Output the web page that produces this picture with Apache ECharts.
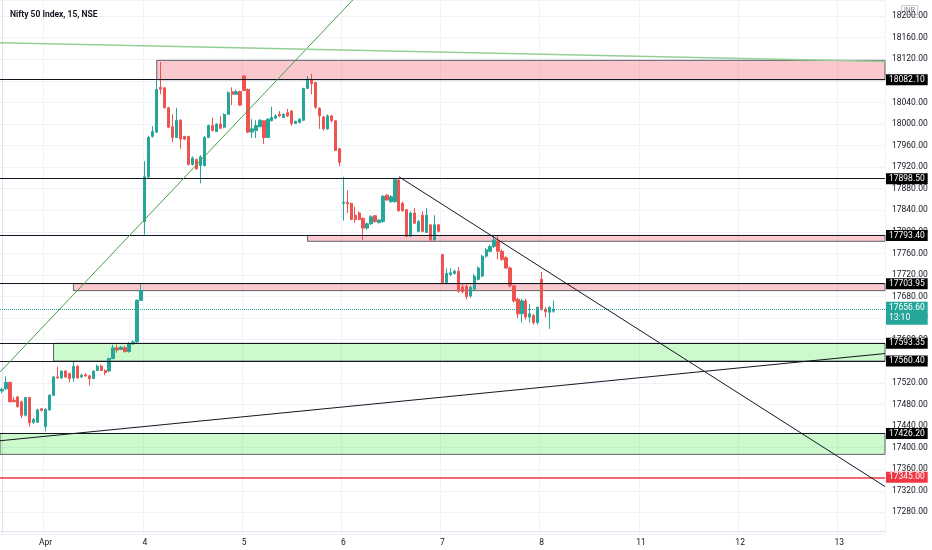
<!DOCTYPE html>
<html>
<head>
<meta charset="utf-8">
<title>Nifty 50 Index, 15, NSE</title>
<script src="https://cdn.jsdelivr.net/npm/echarts@6/dist/echarts.min.js"></script>
<style>
  html, body { margin: 0; padding: 0; background: #fff; }
  #chart { width: 932px; height: 550px; }
</style>
</head>
<body>
<div id="chart"></div>
<script>
// sessions on the time axis and the text shown at each session start
const sessionDays = ["Mar 31", "Apr 1", "Apr 4", "Apr 5", "Apr 6", "Apr 7", "Apr 8", "Apr 11", "Apr 12", "Apr 13"];
const sessionTicks = ["31", "Apr", "4", "5", "6", "7", "8", "11", "12", "13"];
const sessionFirstSlot = [14, 0, 0, 0, 0, 0, 0, 0, 0, 0];
const sessionLastSlot = [24, 24, 24, 24, 24, 24, 24, 24, 24, 11];

// 15 min candles, Mar 31 12:45 -> Apr 8 10:00
const opens = [
  17505, 17509, 17521, 17488, 17494, 17485, 17460, 17493, 17447, 17447, 17472,
  17439, 17470, 17497, 17531, 17529, 17542, 17537, 17529, 17551, 17531, 17535, 17533, 17528, 17543, 17551, 17543, 17542, 17565, 17585, 17582, 17585, 17578, 17592, 17596, 17673,
  17819, 17902, 17977, 17985, 18068, 18067, 18030, 17995, 17975, 18007, 17977, 17977, 17925, 17934, 17923, 17923, 17975, 17997, 17986, 18000, 17994, 18018, 18060, 18055, 18060,
  18089, 18064, 17985, 17988, 17995, 18006, 17975, 18006, 18011, 18018, 18012, 18021, 18024, 18001, 18003, 18007, 18066, 18083, 18077, 18029, 18013, 17991, 18015, 18006, 17954,
  17853, 17855, 17853, 17831, 17835, 17825, 17807, 17815, 17830, 17817, 17819, 17868, 17856, 17856, 17896, 17853, 17841, 17792, 17835, 17801, 17831, 17799, 17813, 17785, 17813,
  17758, 17706, 17721, 17723, 17727, 17698, 17699, 17681, 17694, 17712, 17718, 17755, 17764, 17773, 17782, 17764, 17752, 17733, 17700, 17675, 17648, 17672, 17642, 17645, 17632,
  17712, 17656, 17651, 17653
];
const closes = [
  17508, 17521, 17485, 17485, 17476, 17460, 17493, 17446, 17452, 17470, 17469,
  17471, 17497, 17531, 17529, 17542, 17531, 17528, 17551, 17529, 17534, 17533, 17528, 17542, 17551, 17543, 17539, 17565, 17585, 17581, 17586, 17578, 17592, 17596, 17673, 17691,
  17902, 17975, 17986, 18064, 18064.5, 18030, 17994, 17975, 18007, 17972, 17972, 17925, 17937, 17917, 17939, 17975, 17997, 17988, 18000, 17992, 18018, 18058, 18055, 18060, 18035,
  18062, 17985, 17991, 17997, 18007, 17975, 18009, 18012, 18015, 18015, 18018, 18015, 18001, 18005, 18009, 18066, 18083, 18075, 18031, 18015, 17991, 18015, 18006, 17951, 17929,
  17855, 17852, 17823, 17823, 17823, 17807, 17815, 17828, 17819, 17822, 17866, 17859, 17865, 17897, 17839, 17839, 17792, 17835, 17816, 17819, 17801, 17831, 17785, 17813, 17801,
  17705, 17723, 17724, 17727, 17690, 17689, 17680, 17697, 17718, 17733, 17755, 17767, 17773, 17785, 17764, 17749, 17733, 17700, 17672, 17648, 17672, 17642, 17648, 17632, 17660,
  17658, 17652, 17660, 17656.6
];
const lows = [
  17501, 17507, 17484, 17484, 17474, 17455, 17458, 17439, 17444, 17446, 17467,
  17430, 17468, 17496, 17528, 17528, 17529, 17521, 17522, 17528, 17529, 17531, 17515, 17527, 17542, 17542, 17534, 17540, 17564, 17576, 17581, 17576, 17576, 17591, 17594, 17672,
  17795, 17900, 17975, 17983, 18055, 18029, 17992, 17966, 17974, 17954, 17970, 17923, 17923, 17915, 17890, 17921, 17974, 17986, 17985, 17991, 17992, 18017, 18035, 18054, 18034,
  18061, 17983, 17974, 17974, 17994, 17963, 17974, 18005, 18009, 18013, 18011, 18013, 17997, 18000, 18001, 18006, 18065, 18055, 18028, 17991, 17988, 17989, 18003, 17950, 17922,
  17821, 17835, 17822, 17817, 17822, 17785, 17804, 17813, 17817, 17816, 17817, 17858, 17854, 17854, 17838, 17838, 17790, 17790, 17815, 17799, 17799, 17798, 17782, 17784, 17799,
  17703, 17703, 17718, 17721, 17687, 17686, 17675, 17678, 17690, 17710, 17716, 17752, 17762, 17770, 17749, 17746, 17731, 17697, 17669, 17640, 17632, 17638, 17632, 17628, 17628,
  17654, 17642, 17620, 17650
];
const highs = [
  17511, 17532, 17522, 17494, 17496, 17487, 17494, 17494, 17455, 17472, 17473,
  17473, 17499, 17533, 17550, 17543, 17544, 17539, 17559, 17553, 17537, 17538, 17535, 17543, 17554, 17554, 17545, 17567, 17591, 17591, 17588, 17589, 17596, 17599, 17675, 17705,
  17931, 17978, 17996, 18081, 18115, 18068, 18032, 18018, 18030, 18009, 17978, 17978, 17940, 17936, 17942, 17978, 17999, 18012, 18001, 18015, 18020, 18061, 18068, 18064, 18062,
  18091, 18066, 18009, 18007, 18009, 18007, 18011, 18032, 18018, 18024, 18020, 18028, 18026, 18006, 18011, 18067, 18089, 18093, 18078, 18031, 18015, 18018, 18017, 18007, 17956,
  17902, 17877, 17854, 17847, 17838, 17827, 17817, 17831, 17831, 17823, 17868, 17870, 17868, 17899, 17899, 17856, 17842, 17838, 17844, 17822, 17838, 17844, 17815, 17831, 17815,
  17759, 17732, 17733, 17730, 17735, 17704, 17703, 17700, 17722, 17736, 17757, 17770, 17776, 17792, 17792, 17768, 17755, 17736, 17702, 17678, 17676, 17676, 17666, 17648, 17662,
  17726, 17660, 17662, 17673
];

// price scale (ticks every 40 from the multiple-of-40 minimum)
const priceMin = 17240;
const priceMax = 18229.9;
const priceStep = 40;

// horizontal levels drawn on the chart
const levelPrices = [18082.10, 17898.50, 17793.40, 17703.95, 17593.35, 17560.40, 17426.20];
const stopPrice = 17345.00;
const lastPrice = 17656.60;
const lastBarTimer = "13:10";

// zones: [first bar, upper price, lower price]
const supplyZones = [[39, 18118, 18082.1], [77, 17793.4, 17782.5], [18, 17703.95, 17691]];
const demandZones = [[13, 17593.35, 17560.4], [-0.5, 17426.2, 17387.5]];

// trend lines: [[bar, price], [bar, price]]
const risingGreen = [[-0.5, 17540], [88.4, 18230]];
const topGreen = [[-0.5, 18150.7], [222.5, 18115.9]];
const fallingLine = [[100, 17902.3], [222.5, 17327.8]];
const supportLine = [[-0.5, 17412.7], [222.5, 17574.4]];

const UP = "#26a69a";
const DOWN = "#ef5350";

// build the time slots (09:15 .. 15:15)
const slotTimes = [];
for (let m = 9 * 60 + 15; m <= 15 * 60 + 15; m += 15) {
  slotTimes.push(String(Math.floor(m / 60)).padStart(2, "0") + ":" + String(m % 60).padStart(2, "0"));
}
const categories = [];
const tickText = {};
sessionDays.forEach(function (day, d) {
  for (let s = sessionFirstSlot[d]; s <= sessionLastSlot[d]; s++) {
    const name = day + " " + slotTimes[s];
    if (s === 0) tickText[name] = sessionTicks[d];
    categories.push(name);
  }
});
const lastIndex = categories.length - 0.5;

const candles = opens.map(function (o, i) {
  return [o, closes[i], lows[i], highs[i]];
});

function zoneItem(z, fill) {
  return [
    { coord: [z[0], z[1]], itemStyle: { color: fill, borderColor: "#5f6168", borderWidth: 1 } },
    { coord: [lastIndex, z[2]] }
  ];
}

function levelLabel(bg, text) {
  return {
    show: true,
    position: "end",
    distance: 1,
    formatter: text,
    color: "#fff",
    backgroundColor: bg,
    padding: [1, 3, 0, 3],
    fontSize: 8.5,
    lineHeight: 10
  };
}

function trend(points, color, width) {
  return {
    type: "line",
    xAxisIndex: 1,
    data: points,
    showSymbol: false,
    symbol: "none",
    silent: true,
    z: 5,
    lineStyle: { color: color, width: width }
  };
}

var myChart = echarts.init(document.getElementById("chart"));
var option = {
  animation: false,
  backgroundColor: "#fff",
  textStyle: { fontFamily: "Roboto, 'Liberation Sans', sans-serif" },
  title: {
    text: "Nifty 50 Index, 15, NSE",
    left: 5,
    top: 5,
    textStyle: { fontSize: 8.5, fontWeight: "bold", color: "#131722" }
  },
  grid: { left: 0, right: 47, top: 0, bottom: 16.1 },
  xAxis: [
    {
      type: "category",
      data: categories,
      boundaryGap: true,
      offset: -3,
      axisLine: { lineStyle: { color: "#e0e3eb" } },
      axisTick: { show: false },
      axisLabel: {
        interval: function (i, v) { return tickText[v] !== undefined; },
        formatter: function (v) { return tickText[v] || ""; },
        color: "#131722",
        fontSize: 8.5,
        margin: 7
      },
      splitLine: {
        show: true,
        interval: function (i, v) { return tickText[v] !== undefined; },
        lineStyle: { color: "#f0f3fa" }
      }
    },
    { type: "value", min: -0.5, max: lastIndex, show: false }
  ],
  yAxis: {
    type: "value",
    position: "right",
    min: priceMin,
    max: priceMax,
    interval: priceStep,
    axisLine: { show: true, lineStyle: { color: "#e0e3eb" } },
    axisTick: { show: false },
    axisLabel: {
      formatter: function (v) { return v.toFixed(2); },
      showMinLabel: false,
      showMaxLabel: false,
      color: "#131722",
      fontSize: 8.5,
      margin: 7
    },
    splitLine: { lineStyle: { color: "#f0f3fa" } }
  },
  series: [
    {
      name: "zones",
      type: "line",
      xAxisIndex: 1,
      data: [],
      z: 1,
      markArea: {
        silent: true,
        data: supplyZones.map(function (z) { return zoneItem(z, "rgba(242,54,69,0.27)"); })
          .concat(demandZones.map(function (z) { return zoneItem(z, "rgba(0,230,0,0.2)"); }))
      }
    },
    {
      name: "NIFTY",
      type: "candlestick",
      data: candles,
      barWidth: "70%",
      z: 3,
      itemStyle: { color: UP, color0: DOWN, borderColor: UP, borderColor0: DOWN, borderWidth: 1 }
    },
    {
      name: "levels",
      type: "line",
      xAxisIndex: 1,
      data: [],
      z: 4,
      markLine: {
        silent: true,
        symbol: ["none", "none"],
        data: levelPrices.map(function (p) {
          return {
            yAxis: p,
            lineStyle: { color: "#131722", width: 1, type: "solid" },
            label: levelLabel("#000", p.toFixed(2))
          };
        }).concat([
          {
            yAxis: stopPrice,
            lineStyle: { color: "#f23645", width: 1.5, type: "solid" },
            label: levelLabel("#f23645", stopPrice.toFixed(2))
          },
          {
            yAxis: lastPrice,
            lineStyle: { color: UP, width: 1, type: "dotted" },
            label: Object.assign(levelLabel(UP, lastPrice.toFixed(2) + "\n" + lastBarTimer), { offset: [0, 4], padding: [2, 3, 1, 3] })
          }
        ])
      }
    },
    trend(risingGreen, "#43a047", 1),
    trend(topGreen, "#93cf96", 1.6),
    trend(fallingLine, "#131722", 1),
    trend(supportLine, "#131722", 1)
  ],
  graphic: [
    {
      type: "group",
      left: 901,
      top: 5,
      z: 100,
      children: [
        { type: "rect", shape: { x: 0, y: 0, width: 16, height: 9 }, style: { fill: "#fff", stroke: "#c9ccd3", lineWidth: 1 } },
        { type: "text", style: { x: 8, y: 5, text: "INR", fill: "#787b86", fontSize: 6.5, align: "center", verticalAlign: "middle" } }
      ]
    }
  ]
};

if (option && typeof option === "object") {
  myChart.setOption(option);
}
</script>
</body>
</html>
